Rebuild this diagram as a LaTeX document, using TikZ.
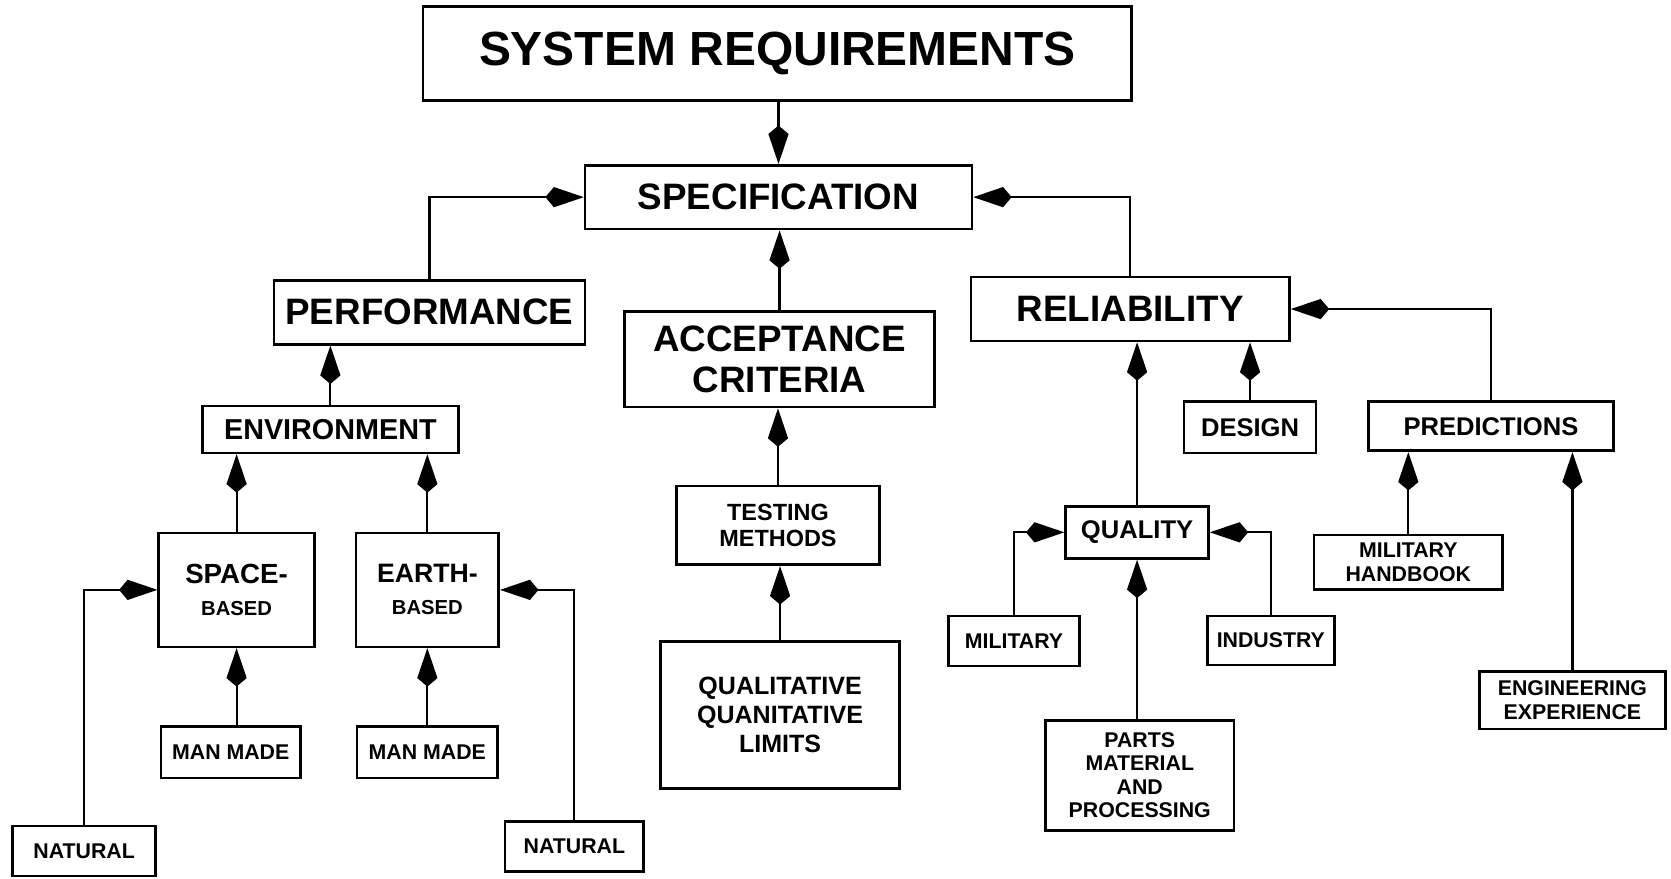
\documentclass[tikz,border=0pt]{standalone}
\usepackage{fontspec}
\setmainfont{Liberation Sans}
\usetikzlibrary{arrows.meta}
\newcommand{\txtsize}[2]{\fontsize{#1pt}{#2pt}\selectfont}

\begin{document}
\begin{tikzpicture}[x=1pt, y=-1pt,
	box/.style={draw, line width=2.5pt, inner sep=0pt, align=center},
	bigtxt/.style={font=\bfseries\txtsize{34.5}{38}},
	midtxt/.style={font=\bfseries\txtsize{24}{27}},
	smalltxt/.style={font=\bfseries\txtsize{20}{22}},
	link/.style={line width=2pt, -{Kite[length=36pt, width=19pt, inset=8pt]}}]
	\useasboundingbox (0,0) rectangle (1568,824);

	\node[box, font=\bfseries\txtsize{45}{50}, minimum width=665pt, minimum height=88pt] (sys) at (729.5,50) {SYSTEM REQUIREMENTS};
	\node[box, bigtxt, minimum width=363pt, minimum height=60pt] (spec) at (730.5,185) {SPECIFICATION};
	\node[box, bigtxt, minimum width=292pt, minimum height=60pt] (perf) at (403,293) {PERFORMANCE};
	\node[box, bigtxt, minimum width=291pt, minimum height=90pt] (accept) at (731.5,337) {ACCEPTANCE\\CRITERIA};
	\node[box, bigtxt, minimum width=299pt, minimum height=60pt] (rel) at (1060.5,290) {RELIABILITY};

	\node[box, font=\bfseries\txtsize{27}{30}, minimum width=240pt, minimum height=44pt] (env) at (310,403) {ENVIRONMENT};
	\node[box, font=\bfseries\txtsize{26}{30}, minimum width=146pt, minimum height=107pt] (space) at (222,553.5) {SPACE-\\{\txtsize{19}{30}BASED}};
	\node[box, font=\bfseries\txtsize{25}{30}, minimum width=134pt, minimum height=107pt] (earth) at (401,553.5) {EARTH-\\{\txtsize{19}{30}BASED}};
	\node[box, smalltxt, minimum width=131pt, minimum height=48pt] (manmadeA) at (216.5,706) {MAN MADE};
	\node[box, smalltxt, minimum width=132pt, minimum height=48pt] (manmadeB) at (401,706) {MAN MADE};
	\node[box, smalltxt, minimum width=134pt, minimum height=47pt] (naturalA) at (79,798.5) {NATURAL};
	\node[box, smalltxt, minimum width=130pt, minimum height=47pt] (naturalB) at (539,794.5) {NATURAL};

	\node[box, font=\bfseries\txtsize{22}{25}, minimum width=190pt, minimum height=74pt] (testing) at (730,493) {TESTING\\METHODS};
	\node[box, font=\bfseries\txtsize{23.5}{27}, minimum width=224pt, minimum height=138pt] (limits) at (732,671) {QUALITATIVE\\QUANITATIVE\\LIMITS};

	\node[box, midtxt, minimum width=124pt, minimum height=48pt] (design) at (1173,401) {DESIGN};
	\node[box, midtxt, minimum width=230pt, minimum height=46pt] (pred) at (1399,400) {PREDICTIONS};
	\node[box, midtxt, minimum width=134pt, minimum height=49pt] (quality) at (1067,499.5) {QUALITY};
	\node[box, smalltxt, minimum width=123pt, minimum height=47pt] (military) at (951.5,601.5) {MILITARY};
	\node[box, smalltxt, minimum width=119pt, minimum height=46pt] (industry) at (1192.5,601) {INDUSTRY};
	\node[box, smalltxt, minimum width=177pt, minimum height=103pt] (parts) at (1069.5,727.5) {PARTS\\MATERIAL\\AND\\PROCESSING};
	\node[box, smalltxt, minimum width=177pt, minimum height=51pt] (handbook) at (1321.5,527.5) {MILITARY\\HANDBOOK};
	\node[box, smalltxt, minimum width=175pt, minimum height=54pt] (experience) at (1475.5,657) {ENGINEERING\\EXPERIENCE};

	\draw[link] (spec.north |- sys.south) -- (spec.north);
	\draw[link] (perf.north) |- (spec.west);
	\draw[link] (accept.north) -- (accept.north |- spec.south);
	\draw[link] (rel.north) |- (spec.east);
	\draw[link] (env.north) -- (env.north |- perf.south);
	\draw[link] (space.north) -- (space.north |- env.south);
	\draw[link] (earth.north) -- (earth.north |- env.south);
	\draw[link] (space.south |- manmadeA.north) -- (space.south);
	\draw[link] (manmadeB.north) -- (manmadeB.north |- earth.south);
	\draw[link] (naturalA.north) |- (space.west);
	\draw[link] (naturalB.north) |- (earth.east);
	\draw[link] (testing.north) -- (testing.north |- accept.south);
	\draw[link] (limits.north) -- (limits.north |- testing.south);
	\draw[link] (design.north) -- (design.north |- rel.south);
	\draw[link] (pred.north) |- (rel.east);
	\draw[link] (quality.north) -- (quality.north |- rel.south);
	\draw[link] (military.north) |- (quality.west);
	\draw[link] (industry.north) |- (quality.east);
	\draw[link] (quality.south |- parts.north) -- (quality.south);
	\draw[link] (handbook.north) -- (handbook.north |- pred.south);
	\draw[link] (experience.north) -- (experience.north |- pred.south);
\end{tikzpicture}
\end{document}
